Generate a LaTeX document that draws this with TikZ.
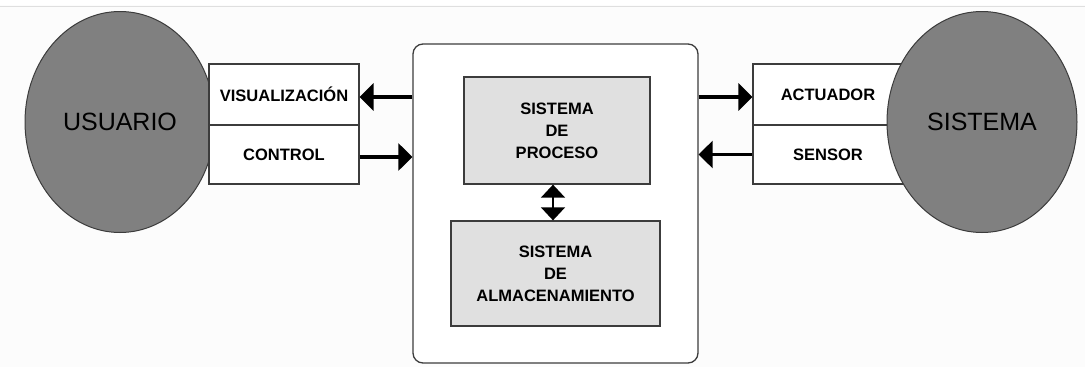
\documentclass[tikz,border=0pt]{standalone}
\usepackage{fontspec}
\setmainfont{Liberation Sans}
\usetikzlibrary{shapes.geometric,arrows.meta}
\definecolor{ellgray}{RGB}{128,128,128}
\definecolor{boxgray}{RGB}{224,224,224}
\definecolor{edge}{RGB}{60,60,60}
\definecolor{bg}{RGB}{252,252,252}
\tikzset{
  actor/.style={ellipse,draw=edge,line width=1pt,fill=ellgray,minimum width=190pt,minimum height=221pt,inner sep=0pt,font=\fontsize{25}{28}\selectfont},
  label box/.style={rectangle,draw=edge,line width=1.1pt,fill=white,inner sep=0pt,font=\bfseries\fontsize{16.5}{18}\selectfont},
  inner box/.style={rectangle,draw=edge,line width=1.3pt,fill=boxgray,inner sep=0pt,align=center,font=\bfseries\fontsize{16.5}{22}\selectfont},
  outer box/.style={rectangle,rounded corners=10pt,draw=edge,line width=1.3pt,fill=white,inner sep=0pt},
  flow/.style={line width=3.2pt,-{Triangle[length=14pt,width=27pt]}},
  link/.style={line width=1.4pt,{Triangle[length=13pt,width=24pt]}-{Triangle[length=13pt,width=24pt]}}
}
\begin{document}
\begin{tikzpicture}[x=1pt,y=-1pt]
\useasboundingbox (0,0) rectangle (1085,367);
\fill[bg] (0,0) rectangle (1085,367);
\fill[white] (0,0) rectangle (1085,5);
\draw[gray!25,line width=1pt] (0,6) -- (1085,6);
% left side
\node[actor] (usuario) at (120,122) {USUARIO};
\node[label box,minimum width=150pt,minimum height=61pt] (vis) at (284,94.5) {VISUALIZACIÓN};
\node[label box,minimum width=150pt,minimum height=59pt] (ctrl) at (284,154.5) {CONTROL};
% centre
\node[outer box,minimum width=285pt,minimum height=319pt] (main) at (555.5,203.5) {};
\node[inner box,minimum width=186pt,minimum height=107pt] (proc) at (557,130.5) {SISTEMA\\DE\\PROCESO};
\node[inner box,minimum width=209pt,minimum height=105pt] (alm) at (555.5,273.5) {SISTEMA\\DE\\ALMACENAMIENTO};
% right side
\node[label box,minimum width=150pt,minimum height=61pt] (act) at (828,94.5) {ACTUADOR};
\node[label box,minimum width=150pt,minimum height=59pt] (sens) at (828,154.5) {SENSOR};
\node[actor] (sistema) at (982,122) {SISTEMA};
% connectors
\draw[flow] ([yshift=-2.5pt]main.west |- vis.east) -- ([yshift=-2.5pt]vis.east);
\draw[flow] ([yshift=-2.5pt]ctrl.east) -- ([yshift=-2.5pt]ctrl.east -| main.west);
\draw[flow] ([yshift=-2.5pt]main.east |- act.west) -- ([yshift=-2.5pt]act.west);
\draw[flow] (sens.west) -- (sens.west -| main.east);
\draw[link] ([xshift=-4pt]proc.south) -- ([xshift=-2.5pt]alm.north);
\end{tikzpicture}
\end{document}
